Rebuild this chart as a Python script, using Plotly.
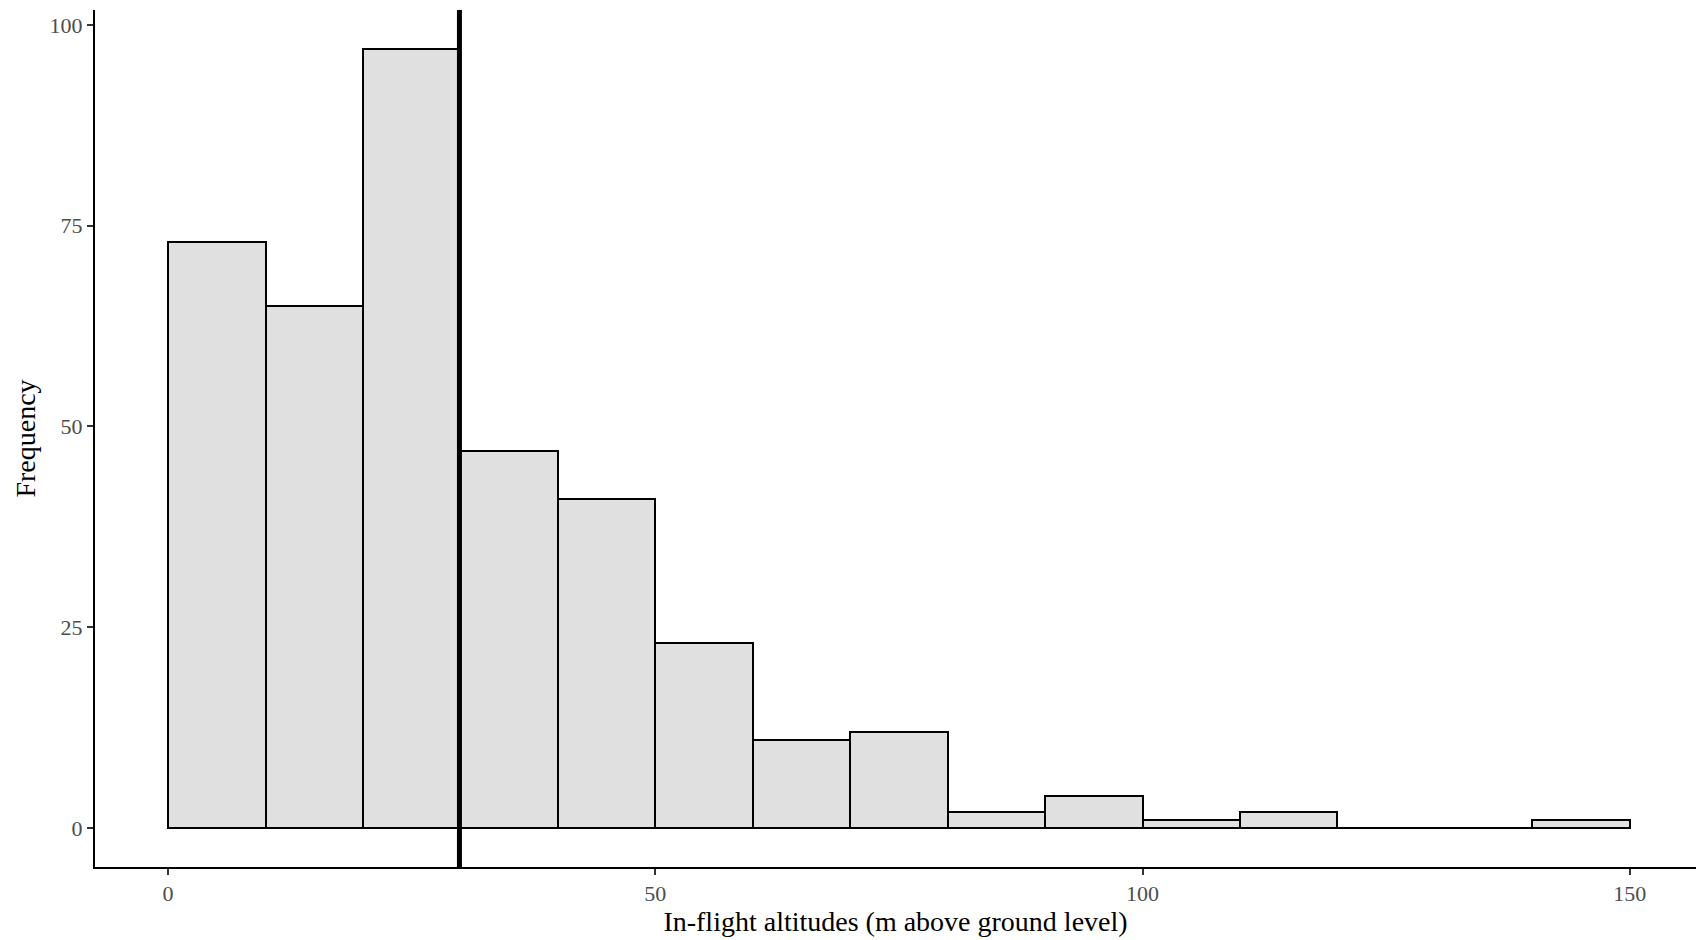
import plotly.graph_objects as go

bin_left = [0, 10, 20, 30, 40, 50, 60, 70, 80, 90, 100, 110, 120, 130, 140]
bin_width = 10
counts = [73, 65, 97, 47, 41, 23, 11, 12, 2, 4, 1, 2, 0, 0, 1]
vline_x = 29.9

x_ticks = [0, 50, 100, 150]
y_ticks = [0, 25, 50, 75, 100]

centers = [b + bin_width / 2 for b in bin_left]

fig = go.Figure()
fig.add_trace(go.Scatter(
    x=[bin_left[0], bin_left[-1] + bin_width], y=[0, 0], mode="lines",
    line=dict(color="black", width=2), hoverinfo="skip", showlegend=False))
fig.add_trace(go.Bar(
    x=centers, y=counts, width=bin_width,
    marker=dict(color="#E0E0E0", line=dict(color="black", width=2)),
    showlegend=False))
fig.add_vline(x=vline_x, line=dict(color="black", width=5))

font = "Liberation Serif, Times New Roman, serif"
fig.update_layout(
    width=1696, height=940,
    margin=dict(l=95, r=0, t=10, b=73),
    plot_bgcolor="white", paper_bgcolor="white",
    bargap=0,
    font=dict(family=font, color="black"),
    xaxis=dict(
        range=[-7.5, 156.8], tickvals=x_ticks, ticks="outside", ticklen=6,
        tickwidth=2, tickcolor="#333333", showline=True, linecolor="black",
        linewidth=2, showgrid=False, zeroline=False,
        tickfont=dict(size=22, color="#4D4D4D", family=font),
        title=dict(text="In-flight altitudes (m above ground level)",
                   font=dict(size=28, color="black", family=font), standoff=6),
    ),
    yaxis=dict(
        range=[-4.85, 101.85], tickvals=y_ticks, ticks="outside", ticklen=6,
        tickwidth=2, tickcolor="#333333", showline=True, linecolor="black",
        linewidth=2, showgrid=False, zeroline=False,
        tickfont=dict(size=22, color="#4D4D4D", family=font),
        title=dict(text="Frequency",
                   font=dict(size=28, color="black", family=font), standoff=6),
    ),
)
fig.write_html("out.html")
